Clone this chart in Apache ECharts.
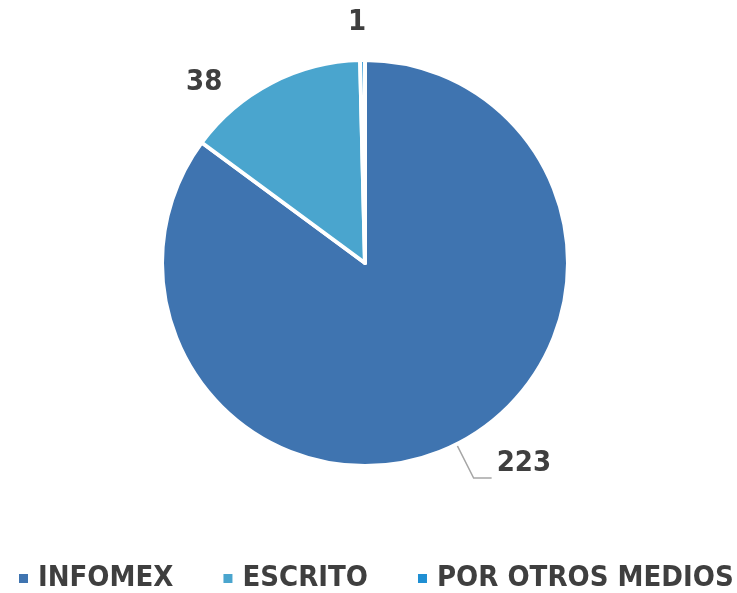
<!DOCTYPE html>
<html>
<head>
<meta charset="utf-8">
<script src="https://cdn.jsdelivr.net/npm/echarts@6/dist/echarts.min.js"></script>
<style>
  html, body { margin: 0; padding: 0; background: #fff; }
  #main { width: 737px; height: 593px; }
</style>
</head>
<body>
<div id="main"></div>
<script>
var categories = ['INFOMEX', 'ESCRITO', 'POR OTROS MEDIOS'];
var values = [223, 38, 1];
var colors = ['#3F74B0', '#4AA5CE', '#1F8FD3'];

var font = '"Liberation Sans Narrow", "DejaVu Sans Condensed", sans-serif';

// per-slice label placement (leader lengths)
var labelLen = [38, 0, 38];
var labelLen2 = [18, 44, 0];

var chart = echarts.init(document.getElementById('main'));

var pieData = categories.map(function (name, i) {
    return {
        name: name,
        value: values[i],
        labelLine: {
            show: i === 0,
            length: labelLen[i],
            length2: labelLen2[i]
        }
    };
});

chart.setOption({
    animation: false,
    color: colors,
    legend: {
        data: categories,
        bottom: -5,
        left: 12,
        width: 725,
        itemWidth: 11,
        itemHeight: 11,
        itemGap: 48,
        icon: 'rect',
        textStyle: {
            fontFamily: font,
            fontWeight: 'bold',
            fontSize: 29,
            color: '#3F3F3F',
            padding: [0, 0, 0, 4]
        }
    },
    series: [{
        type: 'pie',
        center: [365, 263],
        radius: 203,
        startAngle: 90,
        clockwise: true,
        avoidLabelOverlap: false,
        itemStyle: {
            borderColor: '#fff',
            borderWidth: 4
        },
        label: {
            show: true,
            position: 'outside',
            formatter: '{c}',
            fontFamily: font,
            fontWeight: 'bold',
            fontSize: 29,
            color: '#3F3F3F'
        },
        labelLine: {
            lineStyle: { color: '#A6A6A6', width: 1.5 },
            smooth: false
        },
        labelLayout: function (params) {
            if (params.dataIndex === 2) {
                return { align: 'center' };
            }
            if (params.dataIndex === 0) {
                return { verticalAlign: 'bottom' };
            }
            return {};
        },
        data: pieData
    }]
});
</script>
</body>
</html>
